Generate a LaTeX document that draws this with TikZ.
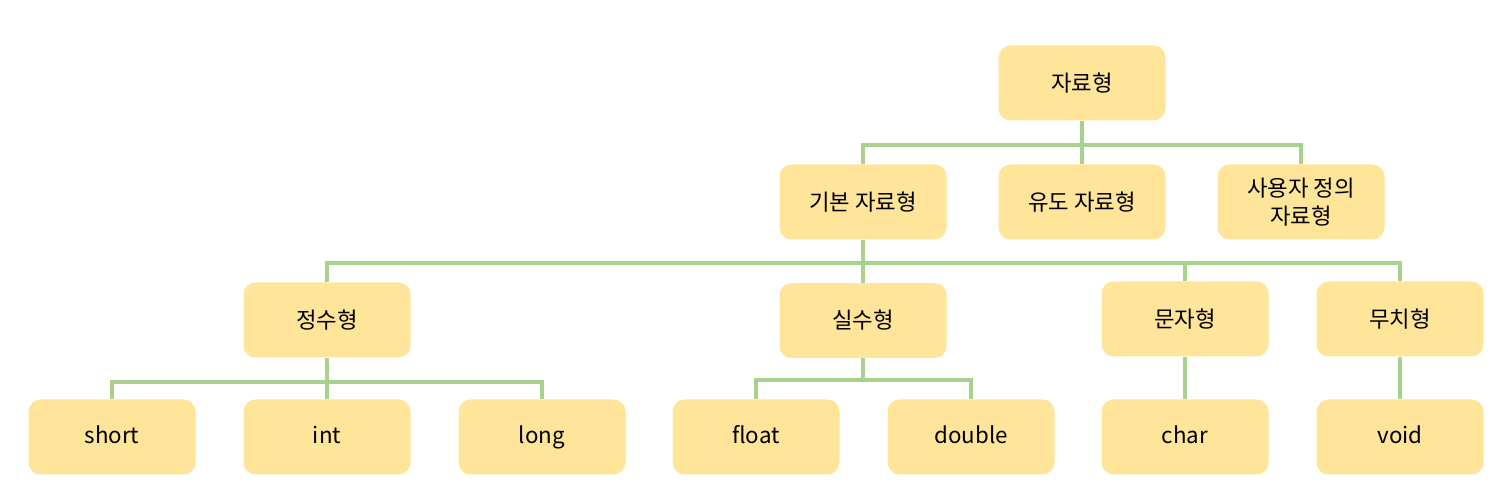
\documentclass[tikz,border=0pt]{standalone}
\usepackage{fontspec}
\setmainfont{Noto Sans CJK KR}
\definecolor{boxfill}{HTML}{FFE599}
\definecolor{linkgreen}{HTML}{A9D18E}
\begin{document}
\begin{tikzpicture}[every node/.style={font=\fontsize{12.7}{16}\selectfont},
  box/.style={fill=boxfill,rounded corners=0.24cm,minimum width=3.34cm,minimum height=1.5cm,align=center,inner sep=2pt},
  link/.style={draw=linkgreen,line width=1.8pt}]
\useasboundingbox (0,0) rectangle (30.18,9.88);
% top levels
\node[box] (top) at (21.64,8.22) {자료형};
\node[box] (basic) at (17.26,5.84) {기본 자료형};
\node[box] (derived) at (21.64,5.84) {유도 자료형};
\node[box] (user) at (26.02,5.84) {사용자 정의\\자료형};
% groups
\node[box] (intg) at (6.54,3.48) {정수형};
\node[box] (realg) at (17.26,3.47) {실수형};
\node[box] (charg) at (23.70,3.50) {문자형};
\node[box] (voidg) at (28.00,3.50) {무치형};
% leaves
\foreach \n/\x/\t in {short/2.24/short,int/6.54/int,long/10.84/long,float/15.12/float,double/19.42/double,char/23.70/char,void/28.00/void}
  {\node[box] (\n) at (\x,1.14) {\vphantom{lg}\t};}
% connectors
\coordinate (b1) at (0,6.98);
\coordinate (b2) at (0,4.62);
\coordinate (b3) at (0,2.24);
\coordinate (b4) at (0,2.28);
\draw[link] (basic.north) |- (user.north |- b1) -- (user.north);
\draw[link] (top.south) -- (derived.north);
\draw[link] (intg.north) |- (voidg.north |- b2) -- (voidg.north);
\draw[link] (basic.south) -- (realg.north);
\draw[link] (charg.north) -- (charg.north |- b2);
\draw[link] (short.north) |- (long.north |- b3) -- (long.north);
\draw[link] (intg.south) -- (int.north);
\draw[link] (float.north) |- (double.north |- b4) -- (double.north);
\draw[link] (realg.south) -- (realg.south |- b4);
\draw[link] (charg.south) -- (char.north);
\draw[link] (voidg.south) -- (void.north);
\end{tikzpicture}
\end{document}
